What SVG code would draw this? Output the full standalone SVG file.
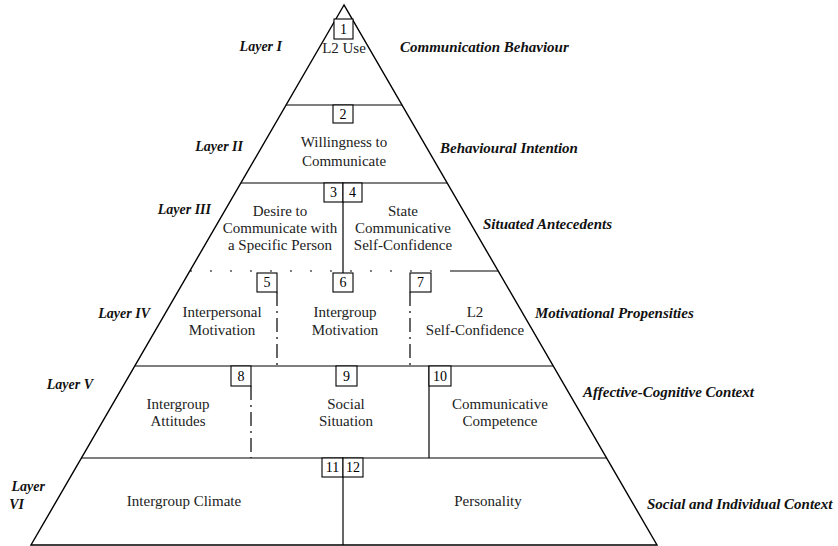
<svg xmlns="http://www.w3.org/2000/svg" width="838" height="546" viewBox="0 0 838 546">
<style>
.edge{stroke:#000;stroke-width:1.4;fill:none}
.line{stroke:#000;stroke-width:1.2;fill:none}
.dash{stroke:#000;stroke-width:1.2;fill:none;stroke-dasharray:14 5 2 5}
.dot{stroke:#000;stroke-width:1;fill:none;stroke-dasharray:2 18}
.box{stroke:#000;stroke-width:1.1;fill:#fff}
.t{font-family:"Liberation Serif","Times New Roman",serif;font-size:15px;fill:#222;text-anchor:middle}
.n{font-family:"Liberation Serif","Times New Roman",serif;font-size:14px;fill:#000;text-anchor:middle}
.lay{font-family:"Liberation Serif","Times New Roman",serif;font-size:14px;font-style:italic;font-weight:bold;fill:#111;text-anchor:end}
.ctx{font-family:"Liberation Serif","Times New Roman",serif;font-size:15px;font-style:italic;font-weight:bold;fill:#111}
</style>
<rect width="838" height="546" fill="#fff"/>
<g id="connectors">
<polygon class="edge" points="344,5 31,545 657,545"/>
<line class="line" x1="286" y1="105" x2="402" y2="105"/>
<line class="line" x1="241" y1="183" x2="447" y2="183"/>
<line class="dot" x1="190" y1="271" x2="450" y2="271"/>
<line class="line" x1="450" y1="271" x2="498" y2="271"/>
<line class="line" x1="135" y1="366" x2="553" y2="366"/>
<line class="line" x1="81" y1="458" x2="607" y2="458"/>
<line class="line" x1="343" y1="183" x2="343" y2="273"/>
<line class="dash" x1="277" y1="292" x2="277" y2="366"/>
<line class="dash" x1="410" y1="292" x2="410" y2="366"/>
<line class="dash" x1="251" y1="386" x2="251" y2="458"/>
<line class="line" x1="429" y1="366" x2="429" y2="458"/>
<line class="line" x1="343" y1="458" x2="343" y2="545"/>
</g>
<g id="layer1">
<rect class="box" x="334" y="19" width="19" height="20"/><text class="n" x="343.5" y="34">1</text>
<text class="lay" x="282" y="51">Layer I</text>
<text class="t" x="344" y="53">L2 Use</text>
<text class="ctx" x="400" y="52">Communication Behaviour</text>
</g>
<g id="layer2">
<rect class="box" x="333" y="105" width="20" height="18"/><text class="n" x="343" y="119">2</text>
<text class="lay" x="243" y="151">Layer II</text>
<text class="t" x="344" y="147">Willingness to</text>
<text class="t" x="344" y="166">Communicate</text>
<text class="ctx" x="440" y="153">Behavioural Intention</text>
</g>
<g id="layer3">
<text class="lay" x="211" y="214">Layer III</text>
<g id="n3"><rect class="box" x="324" y="183" width="19" height="19"/><text class="n" x="333.5" y="197">3</text>
<text class="t" x="280" y="216">Desire to</text>
<text class="t" x="280" y="233">Communicate with</text>
<text class="t" x="280" y="250">a Specific Person</text></g>
<g id="n4"><rect class="box" x="343" y="183" width="19" height="19"/><text class="n" x="352.5" y="197">4</text>
<text class="t" x="403" y="216">State</text>
<text class="t" x="403" y="233">Communicative</text>
<text class="t" x="403" y="250">Self-Confidence</text></g>
<text class="ctx" x="483" y="229">Situated Antecedents</text>
</g>
<g id="layer4">
<text class="lay" x="150" y="318">Layer IV</text>
<g id="n5"><rect class="box" x="257" y="273" width="20" height="19"/><text class="n" x="267" y="287">5</text>
<text class="t" x="222" y="317">Interpersonal</text>
<text class="t" x="222" y="335">Motivation</text></g>
<g id="n6"><rect class="box" x="333" y="273" width="20" height="19"/><text class="n" x="343" y="287">6</text>
<text class="t" x="345" y="317">Intergroup</text>
<text class="t" x="345" y="335">Motivation</text></g>
<g id="n7"><rect class="box" x="410" y="273" width="21" height="19"/><text class="n" x="420.5" y="287">7</text>
<text class="t" x="475" y="317">L2</text>
<text class="t" x="475" y="335">Self-Confidence</text></g>
<text class="ctx" x="535" y="318">Motivational Propensities</text>
</g>
<g id="layer5">
<text class="lay" x="93" y="389">Layer V</text>
<g id="n8"><rect class="box" x="231" y="366" width="20" height="20"/><text class="n" x="241" y="381">8</text>
<text class="t" x="178" y="409">Intergroup</text>
<text class="t" x="178" y="426">Attitudes</text></g>
<g id="n9"><rect class="box" x="336" y="366" width="21" height="20"/><text class="n" x="346.5" y="381">9</text>
<text class="t" x="346" y="409">Social</text>
<text class="t" x="346" y="426">Situation</text></g>
<g id="n10"><rect class="box" x="429" y="366" width="22" height="20"/><text class="n" x="440" y="381">10</text>
<text class="t" x="500" y="409">Communicative</text>
<text class="t" x="500" y="426">Competence</text></g>
<text class="ctx" x="583" y="397">Affective-Cognitive Context</text>
</g>
<g id="layer6">
<text class="lay" x="45" y="491">Layer</text>
<text class="lay" x="24" y="509">VI</text>
<g id="n11"><rect class="box" x="322" y="458" width="21" height="19"/><text class="n" x="332.5" y="472">11</text>
<text class="t" x="184" y="506">Intergroup Climate</text></g>
<g id="n12"><rect class="box" x="343" y="458" width="20" height="19"/><text class="n" x="353" y="472">12</text>
<text class="t" x="488" y="506">Personality</text></g>
<text class="ctx" x="647" y="509">Social and Individual Context</text>
</g>
</svg>
